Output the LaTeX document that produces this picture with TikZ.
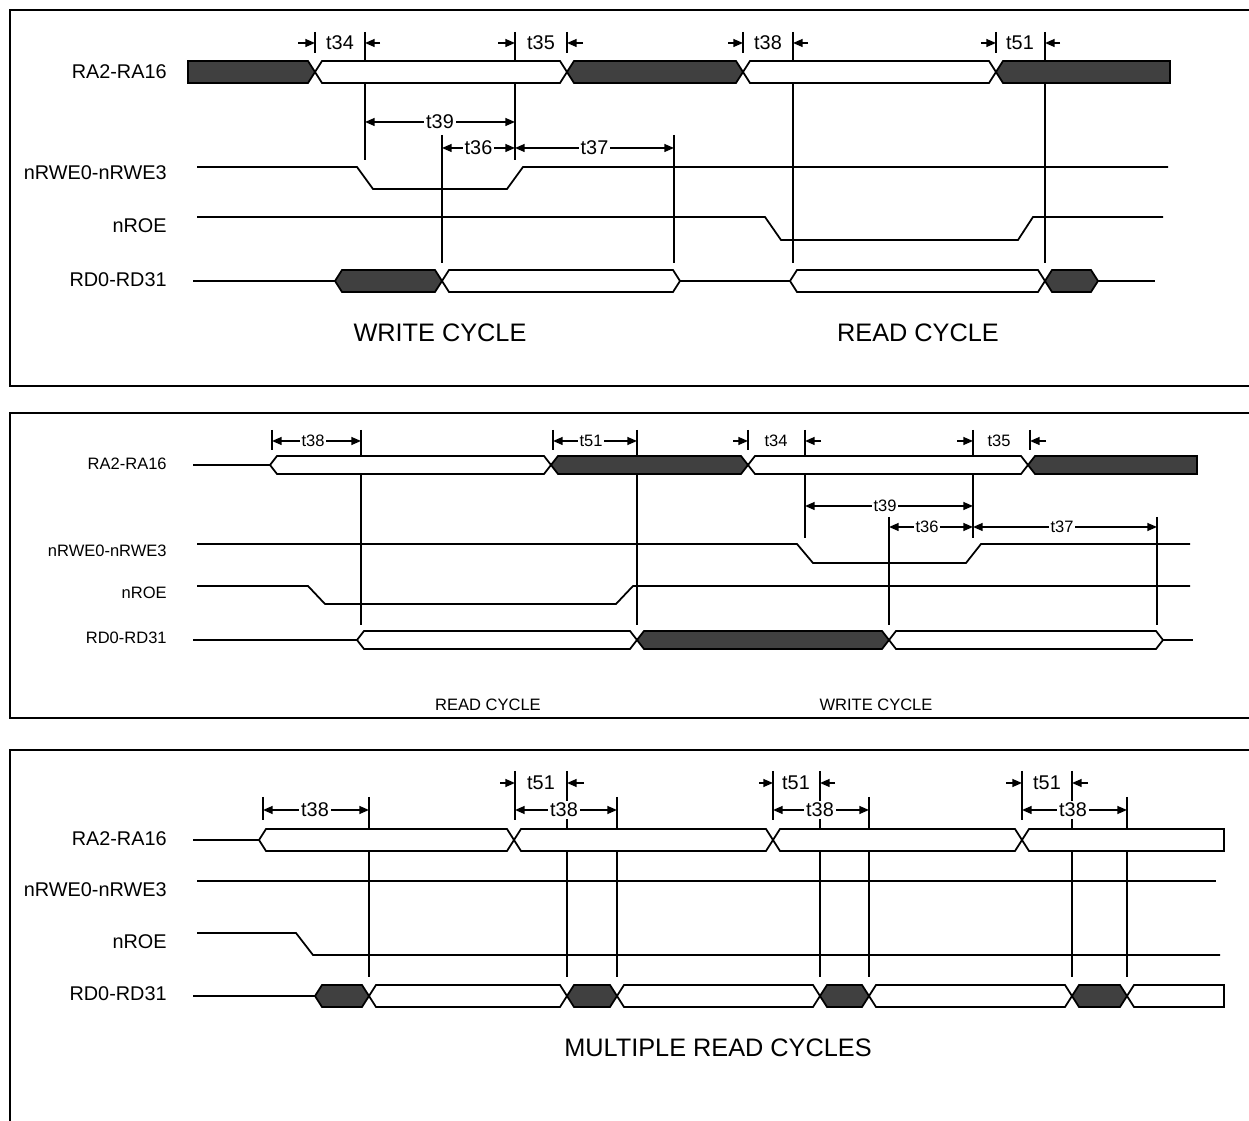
\documentclass[tikz,border=0pt]{standalone}
\usepackage{fontspec}
\setmainfont{Liberation Sans}
\usetikzlibrary{arrows.meta}
\definecolor{busdark}{RGB}{64,64,64}
\def\tpw{7}
\newcommand{\hexseg}[5]{\draw[sig,fill=#1] (#4,#2) -- ({#4+\tpw},{#2-#3}) -- ({#5-\tpw},{#2-#3}) -- (#5,#2) -- ({#5-\tpw},{#2+#3}) -- ({#4+\tpw},{#2+#3}) -- cycle;}
\newcommand{\lfseg}[5]{\draw[sig,fill=#1] (#4,{#2-#3}) -- ({#5-\tpw},{#2-#3}) -- (#5,#2) -- ({#5-\tpw},{#2+#3}) -- (#4,{#2+#3}) -- cycle;}
\newcommand{\rfseg}[5]{\draw[sig,fill=#1] (#4,#2) -- ({#4+\tpw},{#2-#3}) -- (#5,{#2-#3}) -- (#5,{#2+#3}) -- ({#4+\tpw},{#2+#3}) -- cycle;}
\tikzset{
  sig/.style={line width=1pt, line join=miter},
  frame/.style={line width=1.1pt},
  vbar/.style={line width=0.9pt},
  tip/.style={line width=0.9pt, -{Triangle[length=5.5pt,width=4.5pt]}},
  dim/.style={line width=0.9pt, {Triangle[length=5.5pt,width=4.5pt]}-{Triangle[length=5.5pt,width=4.5pt]}},
  lblbig/.style={anchor=east, font=\fontsize{11.3}{13}\selectfont, inner sep=0pt},
  lblsmall/.style={anchor=east, font=\fontsize{9.4}{11}\selectfont, inner sep=0pt},
  tbig/.style={font=\fontsize{11.3}{13}\selectfont, inner sep=1pt},
  tsmall/.style={font=\fontsize{9.4}{11}\selectfont, inner sep=1pt},
  tbigw/.style={tbig, fill=white},
  tsmallw/.style={tsmall, fill=white},
  title/.style={font=\fontsize{14.4}{17}\selectfont},
  subtitle/.style={font=\fontsize{9.4}{11}\selectfont}
}
\begin{document}
\begin{tikzpicture}[x=0.02cm, y=-0.02cm]
\useasboundingbox (0,0) rectangle (1249,1121);
% ================= TOP PANEL =================
\draw[frame] (1249,10) -- (10,10) -- (10,386) -- (1249,386);
\node[lblbig] (a1) at (167,72) {RA2-RA16};
\node[lblbig] (a2) at (167,173) {nRWE0-nRWE3};
\node[lblbig] (a3) at (167,226) {nROE};
\node[lblbig] (a4) at (167,280) {RD0-RD31};
% vertical reference lines
\foreach \x in {315,567,743,996} \draw[vbar] (\x,32) -- (\x,53);
\foreach \x in {365,515} \draw[vbar] (\x,32) -- (\x,160);
\foreach \x in {793,1045} \draw[vbar] (\x,32) -- (\x,263);
\foreach \x in {442,674} \draw[vbar] (\x,135) -- (\x,263);
% RA bus
\lfseg{busdark}{72}{11}{188}{315}
\hexseg{white}{72}{11}{315}{567}
\hexseg{busdark}{72}{11}{567}{743}
\hexseg{white}{72}{11}{743}{996}
\rfseg{busdark}{72}{11}{996}{1170}
% timing marks
\draw[tip] (298,43) -- (315,43); \draw[tip] (380,43) -- (365,43);
\node[tbig] (t34a) at (340,43) {t34};
\draw[tip] (498,43) -- (515,43); \draw[tip] (583,43) -- (567,43);
\node[tbig] (t35a) at (541,43) {t35};
\draw[tip] (728,43) -- (743,43); \draw[tip] (808,43) -- (793,43);
\node[tbig] (t38a) at (768,43) {t38};
\draw[tip] (981,43) -- (996,43); \draw[tip] (1060,43) -- (1045,43);
\node[tbig] (t51a) at (1020,43) {t51};
\draw[dim] (365,122) -- (515,122) node[tbigw, midway] (t39a) {t39};
\draw[dim] (442,148) -- (515,148) node[tbigw, midway] (t36a) {t36};
\draw[dim] (515,148) -- (674,148) node[tbigw, midway] (t37a) {t37};
% nRWE and nROE
\draw[sig] (197,167) -- (357,167) -- (373,189) -- (507,189) -- (523,167) -- (1168,167);
\draw[sig] (197,217) -- (765,217) -- (781,240) -- (1018,240) -- (1033,217) -- (1163,217);
% RD bus
\draw[sig] (193,281) -- (335,281);
\hexseg{busdark}{281}{11}{335}{442}
\hexseg{white}{281}{11}{442}{680}
\draw[sig] (680,281) -- (790,281);
\hexseg{white}{281}{11}{790}{1045}
\hexseg{busdark}{281}{11}{1045}{1098}
\draw[sig] (1098,281) -- (1155,281);
\node[title] (wc1) at (440,333) {WRITE CYCLE};
\node[title] (rc1) at (918,333) {READ CYCLE};
% ================= MIDDLE PANEL =================
\draw[frame] (1249,413) -- (10,413) -- (10,718) -- (1249,718);
\node[lblsmall] (b1) at (167,464) {RA2-RA16};
\node[lblsmall] (b2) at (167,551) {nRWE0-nRWE3};
\node[lblsmall] (b3) at (167,593) {nROE};
\node[lblsmall] (b4) at (167,638) {RD0-RD31};
\foreach \x in {272,553,748,1030} \draw[vbar] (\x,430) -- (\x,450);
\foreach \x in {361,637} \draw[vbar] (\x,430) -- (\x,625);
\foreach \x in {805,973} \draw[vbar] (\x,430) -- (\x,538);
\foreach \x in {889,1157} \draw[vbar] (\x,517) -- (\x,625);
% RA bus
\draw[sig] (193,465) -- (270,465);
\hexseg{white}{465}{9}{270}{551}
\hexseg{busdark}{465}{9}{551}{748}
\hexseg{white}{465}{9}{748}{1028}
\rfseg{busdark}{465}{9}{1028}{1197}
% timing marks
\draw[dim] (272,441) -- (361,441); \node[tsmallw] (t38b) at (313,441) {t38};
\draw[dim] (553,441) -- (637,441); \node[tsmallw] (t51b) at (591,441) {t51};
\draw[tip] (733,441) -- (748,441); \draw[tip] (821,441) -- (805,441);
\node[tsmall] (t34b) at (776,441) {t34};
\draw[tip] (957,441) -- (973,441); \draw[tip] (1046,441) -- (1030,441);
\node[tsmall] (t35b) at (999,441) {t35};
\draw[dim] (805,506) -- (973,506); \node[tsmallw] (t39b) at (885,506) {t39};
\draw[dim] (889,527) -- (973,527); \node[tsmallw] (t36b) at (927,527) {t36};
\draw[dim] (973,527) -- (1157,527); \node[tsmallw] (t37b) at (1062,527) {t37};
% nRWE and nROE
\draw[sig] (197,544) -- (797,544) -- (813,563) -- (966,563) -- (981,544) -- (1190,544);
\draw[sig] (197,586) -- (308,586) -- (325,604) -- (616,604) -- (633,586) -- (1190,586);
% RD bus
\draw[sig] (193,640) -- (357,640);
\hexseg{white}{640}{9}{357}{637}
\hexseg{busdark}{640}{9}{637}{889}
\hexseg{white}{640}{9}{889}{1163}
\draw[sig] (1163,640) -- (1193,640);
\node[subtitle] (rc2) at (488,705) {READ CYCLE};
\node[subtitle] (wc2) at (876,705) {WRITE CYCLE};
% ================= BOTTOM PANEL =================
\draw[frame] (1249,750) -- (10,750) -- (10,1121);
\node[lblbig] (c1) at (167,839) {RA2-RA16};
\node[lblbig] (c2) at (167,890) {nRWE0-nRWE3};
\node[lblbig] (c3) at (167,942) {nROE};
\node[lblbig] (c4) at (167,994) {RD0-RD31};
\foreach \x in {263} \draw[vbar] (\x,797) -- (\x,820);
\foreach \x in {515,773,1022} \draw[vbar] (\x,771) -- (\x,820);
\foreach \x in {567,820,1072} \draw[vbar] (\x,771) -- (\x,977);
\foreach \x in {369,617,869,1127} \draw[vbar] (\x,797) -- (\x,977);
% RA bus
\draw[sig] (193,840) -- (259,840);
\hexseg{white}{840}{11}{259}{514}
\hexseg{white}{840}{11}{514}{773}
\hexseg{white}{840}{11}{773}{1022}
\rfseg{white}{840}{11}{1022}{1224}
% timing marks
\draw[dim] (263,810) -- (369,810); \node[tbigw] (t38c1) at (315,810) {t38};
\draw[tip] (500,783) -- (515,783); \draw[tip] (584,783) -- (567,783);
\node[tbig] (t51c1) at (541,783) {t51};
\draw[dim] (515,810) -- (617,810); \node[tbigw] (t38c2) at (564,810) {t38};
\draw[tip] (759,783) -- (773,783); \draw[tip] (835,783) -- (820,783);
\node[tbig] (t51c2) at (796,783) {t51};
\draw[dim] (773,810) -- (869,810); \node[tbigw] (t38c3) at (820,810) {t38};
\draw[tip] (1006,783) -- (1022,783); \draw[tip] (1088,783) -- (1072,783);
\node[tbig] (t51c3) at (1047,783) {t51};
\draw[dim] (1022,810) -- (1127,810); \node[tbigw] (t38c4) at (1073,810) {t38};
% nRWE and nROE
\draw[sig] (197,881) -- (1216,881);
\draw[sig] (197,933) -- (296,933) -- (313,955) -- (1220,955);
% RD bus
\draw[sig] (193,996) -- (315,996);
\hexseg{busdark}{996}{11}{315}{369}
\hexseg{white}{996}{11}{369}{567}
\hexseg{busdark}{996}{11}{567}{617}
\hexseg{white}{996}{11}{617}{820}
\hexseg{busdark}{996}{11}{820}{869}
\hexseg{white}{996}{11}{869}{1072}
\hexseg{busdark}{996}{11}{1072}{1127}
\rfseg{white}{996}{11}{1127}{1224}
\node[title] (mrc) at (718,1048) {MULTIPLE READ CYCLES};
\end{tikzpicture}
\end{document}
